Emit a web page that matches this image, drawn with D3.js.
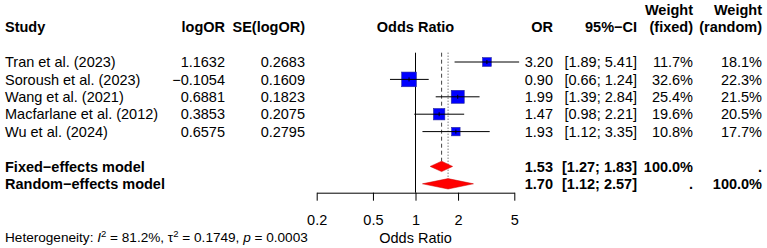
<!DOCTYPE html>
<html>
<head>
<meta charset="utf-8">
<script src="https://cdn.jsdelivr.net/npm/d3@7"></script>
<style>
  body { margin: 0; background: #fff; }
  text { font-family: "Liberation Sans", Arial, sans-serif; font-size: 14.5px; fill: #000; }
</style>
</head>
<body>
<div id="forest"></div>
<script>
var svgWidth = 767;
var svgHeight = 248;

// study data
var studies = ["Tran et al. (2023)", "Soroush et al. (2023)", "Wang et al. (2021)", "Macfarlane et al. (2012)", "Wu et al. (2024)"];
var logOR = ["1.1632", "\u22120.1054", "0.6881", "0.3853", "0.6575"];
var seLogOR = ["0.2683", "0.1609", "0.1823", "0.2075", "0.2795"];
var orVals = [3.20, 0.90, 1.99, 1.47, 1.93];
var ciLow = [1.89, 0.66, 1.39, 0.98, 1.12];
var ciHigh = [5.41, 1.24, 2.84, 2.21, 3.35];
var weightFixed = [11.7, 32.6, 25.4, 19.6, 10.8];
var weightRandom = [18.1, 22.3, 21.5, 20.5, 17.7];

// pooled estimates
var models = ["Fixed\u2212effects model", "Random\u2212effects model"];
var modelOR = [1.53, 1.70];
var modelLow = [1.27, 1.12];
var modelHigh = [1.83, 2.57];
var modelWFixed = ["100.0%", "."];
var modelWRandom = [".", "100.0%"];

var tickValues = [0.2, 0.5, 1, 2, 5];

var svg = d3.select("#forest")
    .append("svg")
    .attr("width", svgWidth)
    .attr("height", svgHeight);

// x scale on the odds ratio (log)
var x = d3.scaleLog().domain([0.2, 5]).range([316.7, 514.3]);
// rows: 0 = header, 2..6 studies, 8..9 models
var row = d3.scaleLinear().domain([0, 1]).range([27.2, 44.6]);

var fmt2 = d3.format(".2f");
var fmt1 = d3.format(".1f");

function addText(txt, xpos, ypos, anchor, bold) {
    return svg.append("text")
        .attr("x", xpos)
        .attr("y", ypos)
        .attr("dy", "0.36em")
        .attr("text-anchor", anchor)
        .style("font-weight", bold ? "bold" : "normal")
        .text(txt);
}

// columns (right edges)
var colStudy = 5, colLog = 225, colSE = 305, colOR = 553, colCI = 637, colWF = 693, colWR = 762;

// headers
addText("Study", colStudy, row(0), "start", true);
addText("logOR", colLog, row(0), "end", true);
addText("SE(logOR)", colSE, row(0), "end", true);
addText("Odds Ratio", (x(0.2) + x(5)) / 2, row(0), "middle", true);
addText("OR", colOR, row(0), "end", true);
addText("95%\u2212CI", colCI, row(0), "end", true);
addText("Weight", colWF, row(-1), "end", true);
addText("(fixed)", colWF, row(0), "end", true);
addText("Weight", colWR, row(-1), "end", true);
addText("(random)", colWR, row(0), "end", true);

var lineTop = row(2) - 9.3;

// reference line at OR = 1
svg.append("line")
    .attr("x1", x(1)).attr("x2", x(1))
    .attr("y1", lineTop).attr("y2", 192.7)
    .attr("stroke", "#000").attr("stroke-width", 1);

// fixed / random pooled lines
svg.append("line")
    .attr("x1", x(modelOR[0])).attr("x2", x(modelOR[0]))
    .attr("y1", lineTop).attr("y2", row(8) - 5)
    .attr("stroke", "#444").attr("stroke-width", 1)
    .attr("stroke-dasharray", "4,3");
svg.append("line")
    .attr("x1", x(modelOR[1])).attr("x2", x(modelOR[1]))
    .attr("y1", lineTop).attr("y2", row(9) - 5)
    .attr("stroke", "#444").attr("stroke-width", 1)
    .attr("stroke-dasharray", "1,2");

// study rows
var maxW = d3.max(weightFixed);
var side = d3.scaleSqrt().domain([0, maxW]).range([0, 14.7]);

studies.forEach(function (s, i) {
    var y = row(i + 2);
    addText(s, colStudy, y, "start", false);
    addText(logOR[i], colLog, y, "end", false);
    addText(seLogOR[i], colSE, y, "end", false);
    addText(fmt2(orVals[i]), colOR, y, "end", false);
    addText("[" + fmt2(ciLow[i]) + "; " + fmt2(ciHigh[i]) + "]", colCI, y, "end", false);
    addText(fmt1(weightFixed[i]) + "%", colWF, y, "end", false);
    addText(fmt1(weightRandom[i]) + "%", colWR, y, "end", false);

    var w = side(weightFixed[i]);
    svg.append("rect")
        .attr("x", x(orVals[i]) - w / 2)
        .attr("y", y - w / 2)
        .attr("width", w).attr("height", w)
        .attr("fill", "#0000ff")
        .attr("stroke", "#2a2a9a").attr("stroke-width", 0.6);
    svg.append("line")
        .attr("x1", x(ciLow[i])).attr("x2", x(ciHigh[i]))
        .attr("y1", y).attr("y2", y)
        .attr("stroke", "#000").attr("stroke-width", 1);
    svg.append("line")
        .attr("x1", x(orVals[i])).attr("x2", x(orVals[i]))
        .attr("y1", y - 2).attr("y2", y + 2)
        .attr("stroke", "#000").attr("stroke-width", 1);
});

// model rows
models.forEach(function (m, i) {
    var y = row(i + 8);
    addText(m, colStudy, y, "start", true);
    addText(fmt2(modelOR[i]), colOR, y, "end", true);
    addText("[" + fmt2(modelLow[i]) + "; " + fmt2(modelHigh[i]) + "]", colCI, y, "end", true);
    addText(modelWFixed[i], colWF, y, "end", true);
    addText(modelWRandom[i], colWR, y, "end", true);

    var h = 5.2;
    var pts = [[x(modelLow[i]), y], [x(modelOR[i]), y - h], [x(modelHigh[i]), y], [x(modelOR[i]), y + h]];
    svg.append("polygon")
        .attr("points", pts.map(function (p) { return p.join(","); }).join(" "))
        .attr("fill", "#ff0000")
        .attr("stroke", "#cc0000").attr("stroke-width", 0.5);
});

// x axis
var axis = d3.axisBottom(x)
    .tickValues(tickValues)
    .tickFormat(function (d) { return String(d); })
    .tickSize(8)
    .tickSizeOuter(0)
    .tickPadding(14);

var xAxis = svg.append("g")
    .attr("transform", "translate(0,192.7)")
    .call(axis);
xAxis.attr("font-size", null).attr("font-family", null);
xAxis.selectAll("text").style("font-size", "14.5px");
xAxis.selectAll("line, path").attr("stroke", "#000");

addText("Odds Ratio", (x(0.2) + x(5)) / 2, 237.3, "middle", false);

// heterogeneity
var het = svg.append("text")
    .attr("x", colStudy)
    .attr("y", 237.3)
    .attr("dy", "0.36em")
    .style("font-size", "13.6px");
het.append("tspan").text("Heterogeneity: ");
het.append("tspan").style("font-style", "italic").text("I");
het.append("tspan").attr("dy", "-5").style("font-size", "9.5px").text("2");
het.append("tspan").attr("dy", "5").text(" = 81.2%, \u03c4");
het.append("tspan").attr("dy", "-5").style("font-size", "9.5px").text("2");
het.append("tspan").attr("dy", "5").text(" = 0.1749, ");
het.append("tspan").style("font-style", "italic").text("p");
het.append("tspan").text(" = 0.0003");
</script>
</body>
</html>
